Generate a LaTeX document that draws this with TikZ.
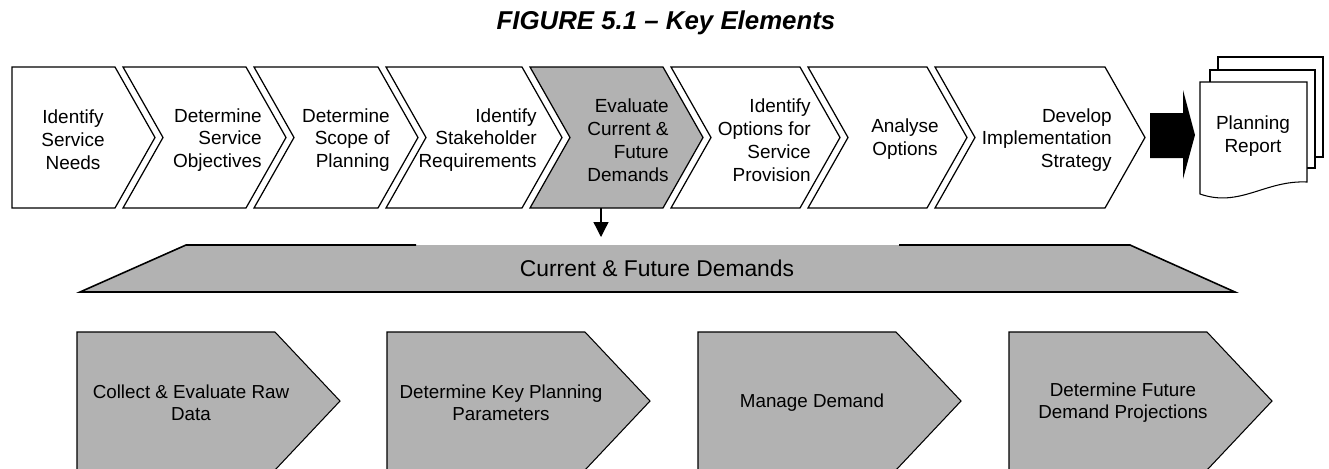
\documentclass[tikz,border=0pt]{standalone}
\usepackage{fontspec}
\setmainfont{Liberation Sans}
\usepackage{xcolor}
\usetikzlibrary{arrows.meta,positioning}
\definecolor{demgrey}{gray}{0.7}
\tikzset{
  chev/.style={draw,line width=0.7pt,fill=white},
  ctxt/.style={font=\fontsize{10.8}{13}\selectfont,align=right,inner sep=0pt},
  pent/.style={draw,line width=0.6pt,fill=demgrey},
  ptxt/.style={font=\fontsize{10.7}{12.5}\selectfont,align=center,inner sep=0pt},
  page/.style={draw,line width=0.6pt,fill=white},
  arr/.style={-{Triangle[length=8.5pt,width=8.5pt]},line width=0.75pt},
}

\begin{document}
\begin{tikzpicture}[x=0.02cm,y=-0.02cm]
\useasboundingbox (0,0) rectangle (1329,468);
\clip (0,0) rectangle (1329,468);
\node[font=\fontsize{14.7}{17}\selectfont\bfseries\itshape] (title) at (666,23) {FIGURE 5.1 – Key Elements};
\draw[chev] (12,67)--(115,67)--(155,137.5)--(115,208)--(12,208)--cycle;
\foreach \l/\s/\c in {123/246/white,254/378/white,386/522/white,530/663/demgrey,671/800/white,808/927/white,935/1105/white}
{\draw[chev,fill=\c] (\l,67)--(\s,67)--({\s+40},137.5)--(\s,208)--(\l,208)--({\l+40},137.5)--cycle;}
\node[ctxt,align=center] (needs) at (73,140) {Identify\\Service\\Needs};
\node[ctxt,anchor=east] (objectives) at (262,140) {Determine\\Service\\Objectives};
\node[ctxt,anchor=east] (scope) at (390,140) {Determine\\Scope of\\Planning};
\node[ctxt,anchor=east] (stakeholder) at (537,140) {Identify\\Stakeholder\\Requirements};
\node[ctxt,anchor=east] (evaluate) at (669,140) {Evaluate\\Current \&\\Future\\Demands};
\node[ctxt,anchor=east] (options) at (811,140) {Identify\\Options for\\Service\\Provision};
\node[ctxt,align=center] (analyse) at (905,139) {Analyse\\Options};
\node[ctxt,anchor=east] (strategy) at (1112,140) {Develop\\Implementation\\Strategy};
\fill (1150,113)--(1183,113)--(1183,90)--(1195,135)--(1183,179)--(1183,158)--(1150,158)--cycle;
\draw[page] (1218,57) rectangle (1323,157);
\draw[page] (1210,70) rectangle (1315,168);
\draw[page] (1200,194)--(1200,82)--(1307,82)--(1307,182) .. controls (1265,180) and (1240,208) .. cycle;
\node[ctxt,align=center] (report) at (1253,136) {Planning\\Report};
\coordinate (evalfoot) at (601,208);
\coordinate (bandtop) at (601,237);
\draw[arr] (evalfoot)--(bandtop);
\fill[demgrey] (80,292)--(186,245)--(1130,245)--(1235,292)--cycle;
\draw[line width=0.9pt] (416,245)--(186,245)--(80,292)--(1235,292)--(1130,245)--(899,245);
\node[font=\fontsize{13}{15}\selectfont] (demands) at (657,268) {Current \& Future Demands};
\foreach \l/\t [count=\i] in {77/{Collect \& Evaluate Raw\\Data},387/{Determine Key Planning\\Parameters},698/{Manage Demand},1009/{Determine Future\\Demand Projections}}
{\draw[pent] (\l,332)--({\l+198},332)--({\l+263},401)--({\l+198},470)--(\l,470)--cycle;
 \node[ptxt] (task\i) at ({\l+114},403) {\t};}
\end{tikzpicture}
\end{document}
